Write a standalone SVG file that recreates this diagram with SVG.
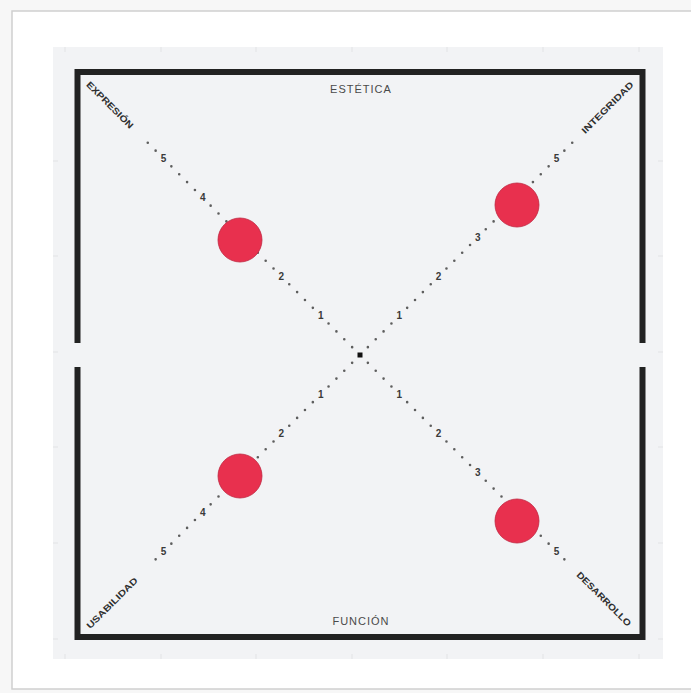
<svg xmlns="http://www.w3.org/2000/svg" width="691" height="693" viewBox="0 0 691 693">
  <defs>
    <style>
      .tick{stroke:#e2e3e5;stroke-width:1}
      .dots{fill:none;stroke:#5e5e5e;stroke-width:2.6;stroke-linecap:round;stroke-dasharray:0 11.116}
      .num{font-family:"Liberation Sans","DejaVu Sans",sans-serif;font-weight:bold;font-size:10px;fill:#3a3a3a;text-anchor:middle;paint-order:stroke;stroke:#f2f3f5;stroke-width:3px}
      .axis{font-family:"Liberation Sans","DejaVu Sans",sans-serif;font-weight:bold;font-size:9px;fill:#2e2e2e;text-anchor:middle}
      .title{font-family:"Liberation Sans","DejaVu Sans",sans-serif;font-size:11px;fill:#4a4a4a;text-anchor:middle;letter-spacing:1px}
      .dot{fill:#e8304e;stroke:#c02640;stroke-width:0.8}
    </style>
  </defs>
  <rect x="0" y="0" width="691" height="693" fill="#f7f7f7"/>
  <g id="card">
    <rect x="12" y="11" width="690" height="678" fill="#ffffff" stroke="#cfcfcf" stroke-width="1.5"/>
  </g>
  <g id="panel">
    <rect x="53" y="47" width="610" height="612" fill="#f2f3f5"/>
    <g class="ticks">
      <path class="tick" d="M65 47v5M161 47v5M256 47v5M352 47v5M447 47v5M543 47v5M639 47v5"/>
      <path class="tick" d="M65 654v5M161 654v5M256 654v5M352 654v5M447 654v5M543 654v5M639 654v5"/>
      <path class="tick" d="M53 161h5M53 256h5M53 352h5M53 447h5M53 543h5M53 639h5"/>
      <path class="tick" d="M658 161h5M658 256h5M658 352h5M658 447h5M658 543h5M658 639h5"/>
    </g>
  </g>
  <g id="frame">
    <path d="M77.5 343V72H642.5V343M77.5 367V637H642.5V367" fill="none" stroke="#222222" stroke-width="6" stroke-linejoin="miter"/>
  </g>
  <g id="connectors">
    <path class="dots" d="M360 355L139.92 134.92"/>
    <path class="dots" d="M360 355L580.08 134.92"/>
    <path class="dots" d="M360 355L147.78 567.22"/>
    <path class="dots" d="M360 355L572.22 567.22"/>
    <rect x="357.5" y="352.5" width="5" height="5" fill="#111"/>
  </g>
  <g id="scale-numbers">
    <text class="num" x="320.7" y="315.7" dy="0.35em">1</text>
    <text class="num" x="281.4" y="276.4" dy="0.35em">2</text>
    <text class="num" x="202.8" y="197.8" dy="0.35em">4</text>
    <text class="num" x="163.5" y="158.5" dy="0.35em">5</text>

    <text class="num" x="399.3" y="315.7" dy="0.35em">1</text>
    <text class="num" x="438.6" y="276.4" dy="0.35em">2</text>
    <text class="num" x="477.9" y="237.1" dy="0.35em">3</text>
    <text class="num" x="556.5" y="158.5" dy="0.35em">5</text>

    <text class="num" x="320.7" y="394.3" dy="0.35em">1</text>
    <text class="num" x="281.4" y="433.6" dy="0.35em">2</text>
    <text class="num" x="202.8" y="512.2" dy="0.35em">4</text>
    <text class="num" x="163.5" y="551.5" dy="0.35em">5</text>

    <text class="num" x="399.3" y="394.3" dy="0.35em">1</text>
    <text class="num" x="438.6" y="433.6" dy="0.35em">2</text>
    <text class="num" x="477.9" y="472.9" dy="0.35em">3</text>
    <text class="num" x="556.5" y="551.5" dy="0.35em">5</text>
  </g>
  <g id="label-estetica"><text class="title" x="361" y="93">ESTÉTICA</text></g>
  <g id="label-funcion"><text class="title" x="361" y="625">FUNCIÓN</text></g>
  <g id="label-expresion"><text class="axis" transform="translate(110 105) rotate(45)" dy="0.35em" textLength="62" lengthAdjust="spacingAndGlyphs">EXPRESIÓN</text></g>
  <g id="label-integridad"><text class="axis" transform="translate(607.5 107.5) rotate(-45)" dy="0.35em" textLength="69" lengthAdjust="spacingAndGlyphs">INTEGRIDAD</text></g>
  <g id="label-usabilidad"><text class="axis" transform="translate(112 603) rotate(-45)" dy="0.35em" textLength="68" lengthAdjust="spacingAndGlyphs">USABILIDAD</text></g>
  <g id="label-desarrollo"><text class="axis" transform="translate(604 599) rotate(45)" dy="0.35em" textLength="73" lengthAdjust="spacingAndGlyphs">DESARROLLO</text></g>
  <g id="point-expresion"><circle class="dot" cx="240" cy="240" r="22"/></g>
  <g id="point-integridad"><circle class="dot" cx="517" cy="205" r="22"/></g>
  <g id="point-usabilidad"><circle class="dot" cx="240" cy="476" r="22"/></g>
  <g id="point-desarrollo"><circle class="dot" cx="517" cy="521" r="22"/></g>
</svg>
